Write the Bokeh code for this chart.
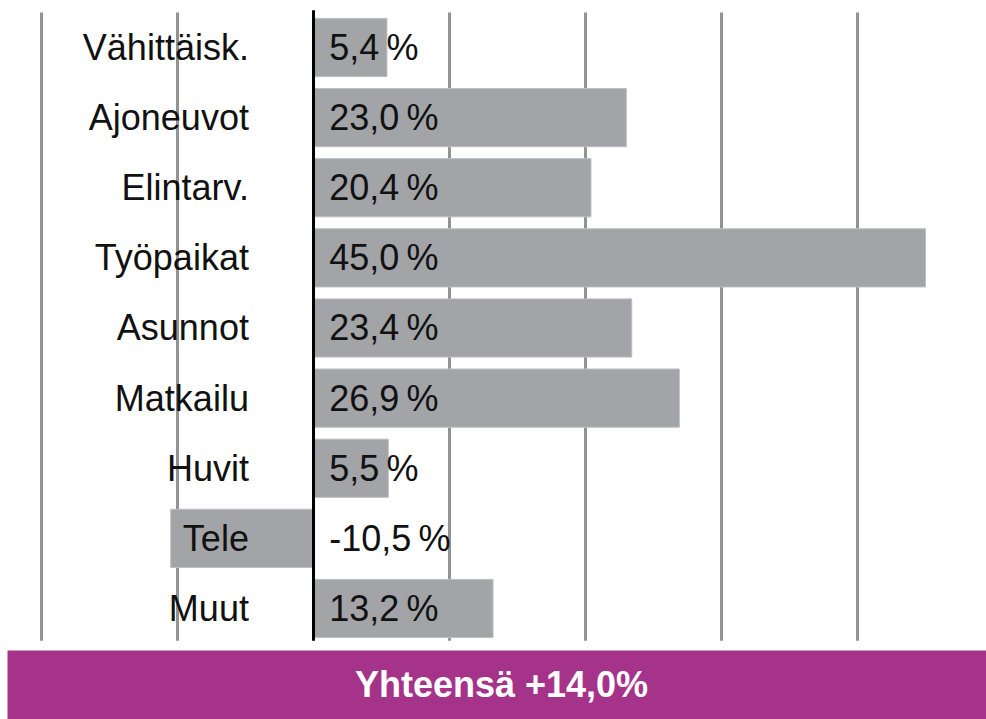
from bokeh.plotting import figure
from bokeh.models import Range1d, ColumnDataSource, BoxAnnotation, Label
from bokeh.core.properties import value
from bokeh.embed import file_html
from bokeh.resources import INLINE

categories = ["Vähittäisk.", "Ajoneuvot", "Elintarv.", "Työpaikat", "Asunnot",
              "Matkailu", "Huvit", "Tele", "Muut"]
values = [5.4, 23.0, 20.4, 45.0, 23.4, 26.9, 5.5, -10.5, 13.2]
grid_ticks = [-20, -10, 10, 20, 30, 40]
total_text = "Yhteensä +14,0%"

FONT = "Liberation Sans"

rows = list(range(len(categories)))
src = ColumnDataSource(dict(
    y=rows,
    v=values,
    zero=[0] * len(values),
    cat=categories,
    lab=[("%.1f" % v).replace(".", ",") + "\u2009%" for v in values],
))

p = figure(width=986, height=719, output_backend="svg", toolbar_location=None,
           x_range=Range1d(-23.015, 49.485), y_range=Range1d(9.583, -0.670),
           min_border=0, outline_line_color=None, background_fill_color="white")
p.axis.visible = False
p.grid.visible = False

# grid lines
p.segment(x0=grid_ticks, x1=grid_ticks, y0=[-0.5] * len(grid_ticks),
          y1=[8.46] * len(grid_ticks), line_color="#939393", line_width=3)

# bars
p.hbar(y="y", left="zero", right="v", height=0.83, source=src,
       fill_color="#a3a4a8", line_color="#bdbec1", line_width=1)

# zero line
p.segment(x0=[0], x1=[0], y0=[-0.53], y1=[8.46], line_color="black", line_width=3)

# category labels
p.text(x=-4.75, y="y", text="cat", source=src, text_align="right",
       text_baseline="middle", text_font=value(FONT), text_font_size="36px",
       text_color="#111111")

# value labels
p.text(x=1.15, y="y", text="lab", source=src, text_align="left",
       text_baseline="middle", text_font=value(FONT), text_font_size="36px",
       text_color="#111111")

# total banner
p.add_layout(BoxAnnotation(top=8.6, bottom=9.583, left=-22.5, fill_color="#a6338a",
                           fill_alpha=1.0, line_color=None, level="underlay"))
p.add_layout(Label(x=501, y=35, x_units="screen", y_units="screen",
                   text=total_text, text_align="center", text_baseline="middle",
                   text_font=FONT, text_font_size="36px", text_font_style="bold",
                   text_color="white"))

open("out.html", "w").write(file_html(p, INLINE))
